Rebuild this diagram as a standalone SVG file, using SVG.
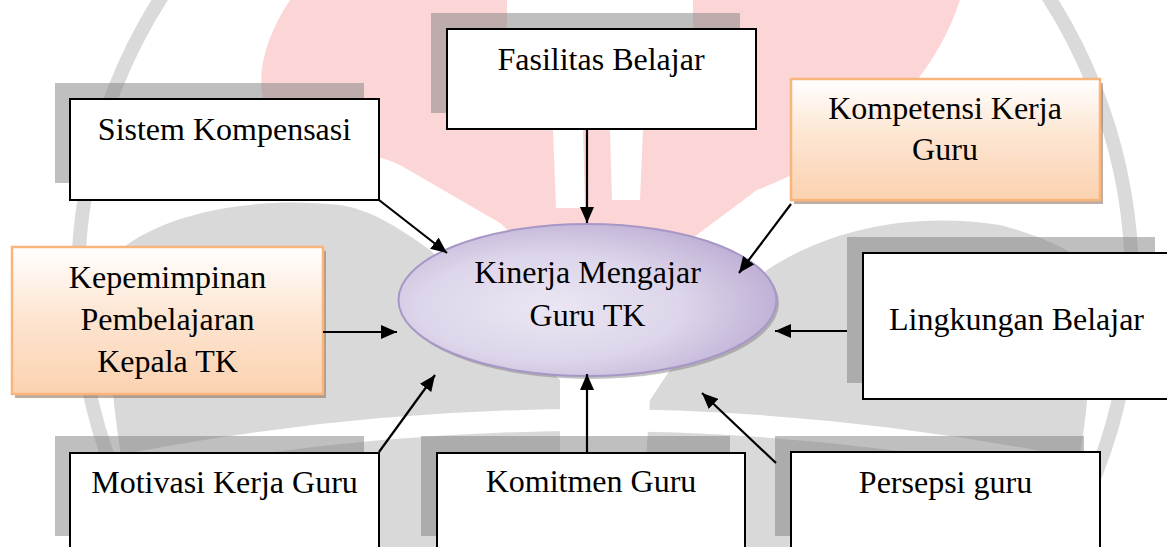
<svg xmlns="http://www.w3.org/2000/svg" width="1167" height="547" viewBox="0 0 1167 547">
<defs>
<style>
.box{fill:#ffffff;stroke:#000000;stroke-width:2}
.shd{fill:#7f7f7f;fill-opacity:0.5}
.obox{fill:url(#og);stroke:#f8b57c;stroke-width:2.5}
.oshd{fill:#8a6a55;fill-opacity:0.55}
.t{font-family:"Liberation Serif",serif;font-size:32px;fill:#000000;text-anchor:middle}
.c{stroke:#000000;stroke-width:2.2;fill:none;marker-end:url(#ah)}
</style>
<linearGradient id="og" x1="0" y1="0" x2="0" y2="1">
<stop offset="0" stop-color="#ffffff"/>
<stop offset="0.45" stop-color="#fde6d3"/>
<stop offset="1" stop-color="#fbd2b0"/>
</linearGradient>
<radialGradient id="eg" cx="0.4" cy="0.55" r="0.7">
<stop offset="0" stop-color="#ebe6f3"/>
<stop offset="0.5" stop-color="#ddd5ea"/>
<stop offset="1" stop-color="#b5a4cf"/>
</radialGradient>
<marker id="ah" markerUnits="userSpaceOnUse" markerWidth="16" markerHeight="14" refX="16" refY="7" orient="auto">
<path d="M0,0 L16,7 L0,14 Z" fill="#000000"/>
</marker>
</defs>
<rect x="0" y="0" width="1167" height="547" fill="#ffffff"/>
<g id="watermark">
<circle cx="605" cy="282" r="527" fill="none" stroke="#dadada" stroke-width="14"/>
<path d="M290 0 C250 60 250 120 300 145 C340 155 370 150 400 165 L500 223 L590 305 L690 240 L757 190 C860 150 930 90 960 0 Z" fill="#fcd6d6"/>
<rect x="507" y="0" width="186" height="125" fill="#ffffff"/>
<path d="M553 130 L583 130 L585 208 L556 208 Z" fill="#ffffff"/>
<path d="M610 130 L643 130 L640 200 L612 200 Z" fill="#ffffff"/>
<path d="M110 260 C150 215 250 195 340 205 C370 210 395 225 430 250 L560 380 L560 547 L140 547 C115 450 105 350 110 260 Z" fill="#d9d9d9"/>
<path d="M650 400 L670 370 L767 270 C820 235 900 210 1000 225 C1040 235 1070 250 1090 265 C1095 360 1085 460 1060 547 L640 547 Z" fill="#d9d9d9"/>
<path d="M100 470 Q590 370 1080 470" fill="none" stroke="#ffffff" stroke-width="22"/>
</g>
<g id="node-kinerja">
<ellipse cx="590" cy="303" rx="189" ry="76" fill="#777777" fill-opacity="0.45"/>
<ellipse cx="587.5" cy="300" rx="189" ry="76" fill="url(#eg)" stroke="#a897c6" stroke-width="2"/>
<text class="t" x="587.5" y="283">Kinerja Mengajar</text>
<text class="t" x="587.5" y="326">Guru TK</text>
</g>
<g id="node-sistem">
<rect class="shd" x="55" y="83" width="309" height="100"/>
<rect class="box" x="70" y="99" width="309" height="101"/>
<text class="t" x="224.5" y="140">Sistem Kompensasi</text>
</g>
<g id="node-fasilitas">
<rect class="shd" x="431" y="13" width="309" height="100"/>
<rect class="box" x="447" y="29" width="309" height="100"/>
<text class="t" x="601" y="70">Fasilitas Belajar</text>
</g>
<g id="node-kompetensi">
<rect class="oshd" x="794" y="83" width="309" height="121"/>
<rect class="obox" x="791" y="79" width="309" height="121"/>
<text class="t" x="945" y="119">Kompetensi Kerja</text>
<text class="t" x="945" y="160">Guru</text>
</g>
<g id="node-kepemimpinan">
<rect class="oshd" x="15" y="251" width="311" height="147"/>
<rect class="obox" x="12" y="247" width="311" height="147"/>
<text class="t" x="167.5" y="288">Kepemimpinan</text>
<text class="t" x="167.5" y="330">Pembelajaran</text>
<text class="t" x="167.5" y="372">Kepala TK</text>
</g>
<g id="node-lingkungan">
<rect class="shd" x="847" y="237" width="308" height="146"/>
<rect class="box" x="863" y="253" width="309" height="146"/>
<text class="t" x="1016.5" y="330">Lingkungan Belajar</text>
</g>
<g id="node-motivasi">
<rect class="shd" x="55" y="436" width="309" height="100"/>
<rect class="box" x="70" y="453" width="309" height="100"/>
<text class="t" x="224.5" y="493">Motivasi Kerja Guru</text>
</g>
<g id="node-komitmen">
<rect class="shd" x="421" y="436" width="309" height="100"/>
<rect class="box" x="437" y="453" width="308" height="100"/>
<text class="t" x="591" y="492">Komitmen Guru</text>
</g>
<g id="node-persepsi">
<rect class="shd" x="775" y="436" width="309" height="100"/>
<rect class="box" x="791" y="452" width="309" height="100"/>
<text class="t" x="945.5" y="493">Persepsi guru</text>
</g>
<g id="connectors">
<line class="c" x1="379" y1="200" x2="447" y2="253"/>
<line class="c" x1="587" y1="129" x2="587" y2="223"/>
<line class="c" x1="791" y1="204" x2="739" y2="273"/>
<line class="c" x1="323" y1="332" x2="397" y2="332"/>
<line class="c" x1="847" y1="331" x2="775" y2="331"/>
<line class="c" x1="379" y1="452" x2="435" y2="375"/>
<line class="c" x1="587" y1="453" x2="587" y2="374"/>
<line class="c" x1="776" y1="463" x2="702" y2="393"/>
</g>
</svg>
